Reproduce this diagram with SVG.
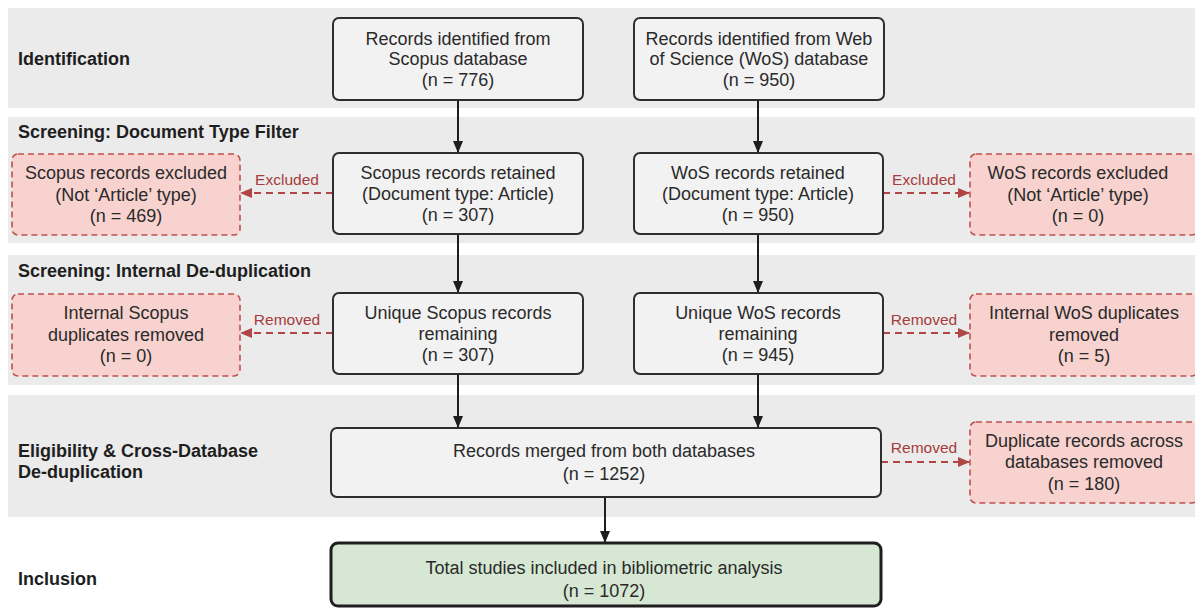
<svg xmlns="http://www.w3.org/2000/svg" width="1195" height="610" viewBox="0 0 1195 610">
<style>
.band{fill:#ebebeb}
.stage{font-family:"Liberation Sans",Arial,sans-serif;font-weight:bold;font-size:18px;fill:#1e1e1e}
.box{fill:#f2f2f2;stroke:#2e2e2e;stroke-width:2}
.ex{fill:#f7d2ce;stroke:#c0504d;stroke-width:1.6;stroke-dasharray:6 4}
.inc{fill:#d6e8d3;stroke:#1e1e1e;stroke-width:3}
.t{font-family:"Liberation Sans",Arial,sans-serif;font-size:18px;fill:#2a2a2a;text-anchor:middle}
.lbl{font-family:"Liberation Sans",Arial,sans-serif;font-size:15.5px;fill:#a63c3c;text-anchor:middle}
.arr{stroke:#1e1e1e;stroke-width:2;fill:none;marker-end:url(#ah)}
.darr{stroke:#b04545;stroke-width:2;stroke-dasharray:7 5;fill:none;marker-end:url(#rh)}
</style>
<defs>
<marker id="ah" markerWidth="12" markerHeight="12" refX="11" refY="6" orient="auto" markerUnits="userSpaceOnUse">
<path d="M0,1 L12,6 L0,11 Z" fill="#1e1e1e"/>
</marker>
<marker id="rh" markerWidth="12" markerHeight="12" refX="11" refY="6" orient="auto" markerUnits="userSpaceOnUse">
<path d="M0,1 L12,6 L0,11 Z" fill="#b04545"/>
</marker>
</defs>
<rect width="1195" height="610" fill="#ffffff"/>
<g id="bands">
<rect class="band" x="8" y="8" width="1187" height="100"/>
<rect class="band" x="8" y="117" width="1187" height="126"/>
<rect class="band" x="8" y="255" width="1187" height="130"/>
<rect class="band" x="8" y="395" width="1187" height="122"/>
</g>
<g id="stages">
<text class="stage" x="18" y="65">Identification</text>
<text class="stage" x="18" y="138">Screening: Document Type Filter</text>
<text class="stage" x="18" y="277">Screening: Internal De-duplication</text>
<text class="stage" x="18" y="457">Eligibility &amp; Cross-Database</text>
<text class="stage" x="18" y="478">De-duplication</text>
<text class="stage" x="18" y="585">Inclusion</text>
</g>
<g id="connectors">
<line class="arr" x1="458" y1="100" x2="458" y2="152"/>
<line class="arr" x1="758" y1="100" x2="758" y2="152"/>
<line class="arr" x1="458" y1="234" x2="458" y2="292"/>
<line class="arr" x1="758" y1="234" x2="758" y2="292"/>
<line class="arr" x1="458" y1="374" x2="458" y2="427"/>
<line class="arr" x1="758" y1="374" x2="758" y2="427"/>
<line class="arr" x1="605" y1="497" x2="605" y2="542"/>
<line class="darr" x1="333" y1="193" x2="241" y2="193"/>
<line class="darr" x1="883" y1="193" x2="969" y2="193"/>
<line class="darr" x1="333" y1="333" x2="241" y2="333"/>
<line class="darr" x1="883" y1="333" x2="969" y2="333"/>
<line class="darr" x1="881" y1="462" x2="969" y2="462"/>
<text class="lbl" x="287" y="185">Excluded</text>
<text class="lbl" x="924" y="185">Excluded</text>
<text class="lbl" x="287" y="325">Removed</text>
<text class="lbl" x="924" y="325">Removed</text>
<text class="lbl" x="924" y="453">Removed</text>
</g>
<g id="scopus-id">
<rect class="box" x="333" y="18" width="250" height="82" rx="6"/>
<text class="t" x="458" y="45">Records identified from</text>
<text class="t" x="458" y="65">Scopus database</text>
<text class="t" x="458" y="86">(n = 776)</text>
</g>
<g id="wos-id">
<rect class="box" x="634" y="18" width="250" height="82" rx="6"/>
<text class="t" x="759" y="45">Records identified from Web</text>
<text class="t" x="759" y="65">of Science (WoS) database</text>
<text class="t" x="759" y="86">(n = 950)</text>
</g>
<g id="scopus-retained">
<rect class="box" x="333" y="153" width="250" height="81" rx="6"/>
<text class="t" x="458" y="179">Scopus records retained</text>
<text class="t" x="458" y="200">(Document type: Article)</text>
<text class="t" x="458" y="221">(n = 307)</text>
</g>
<g id="wos-retained">
<rect class="box" x="634" y="153" width="249" height="81" rx="6"/>
<text class="t" x="758" y="179">WoS records retained</text>
<text class="t" x="758" y="200">(Document type: Article)</text>
<text class="t" x="758" y="221">(n = 950)</text>
</g>
<g id="scopus-excluded">
<rect class="ex" x="12" y="154" width="228" height="81" rx="6"/>
<text class="t" x="126" y="179">Scopus records excluded</text>
<text class="t" x="126" y="201">(Not ‘Article’ type)</text>
<text class="t" x="126" y="222">(n = 469)</text>
</g>
<g id="wos-excluded">
<rect class="ex" x="970" y="154" width="228" height="81" rx="6"/>
<text class="t" x="1078" y="179">WoS records excluded</text>
<text class="t" x="1078" y="201">(Not ‘Article’ type)</text>
<text class="t" x="1078" y="222">(n = 0)</text>
</g>
<g id="scopus-unique">
<rect class="box" x="333" y="293" width="250" height="81" rx="6"/>
<text class="t" x="458" y="319">Unique Scopus records</text>
<text class="t" x="458" y="340">remaining</text>
<text class="t" x="458" y="361">(n = 307)</text>
</g>
<g id="wos-unique">
<rect class="box" x="634" y="293" width="249" height="81" rx="6"/>
<text class="t" x="758" y="319">Unique WoS records</text>
<text class="t" x="758" y="340">remaining</text>
<text class="t" x="758" y="361">(n = 945)</text>
</g>
<g id="scopus-dup">
<rect class="ex" x="12" y="294" width="228" height="82" rx="6"/>
<text class="t" x="126" y="319">Internal Scopus</text>
<text class="t" x="126" y="341">duplicates removed</text>
<text class="t" x="126" y="362">(n = 0)</text>
</g>
<g id="wos-dup">
<rect class="ex" x="970" y="294" width="228" height="82" rx="6"/>
<text class="t" x="1084" y="319">Internal WoS duplicates</text>
<text class="t" x="1084" y="341">removed</text>
<text class="t" x="1084" y="362">(n = 5)</text>
</g>
<g id="merged">
<rect class="box" x="331" y="428" width="550" height="69" rx="6"/>
<text class="t" x="604" y="457">Records merged from both databases</text>
<text class="t" x="604" y="480">(n = 1252)</text>
</g>
<g id="cross-dup">
<rect class="ex" x="970" y="422" width="228" height="81" rx="6"/>
<text class="t" x="1084" y="447">Duplicate records across</text>
<text class="t" x="1084" y="468">databases removed</text>
<text class="t" x="1084" y="490">(n = 180)</text>
</g>
<g id="included">
<rect class="inc" x="331" y="543" width="550" height="63" rx="7"/>
<text class="t" x="604" y="574">Total studies included in bibliometric analysis</text>
<text class="t" x="604" y="597">(n = 1072)</text>
</g>
</svg>
